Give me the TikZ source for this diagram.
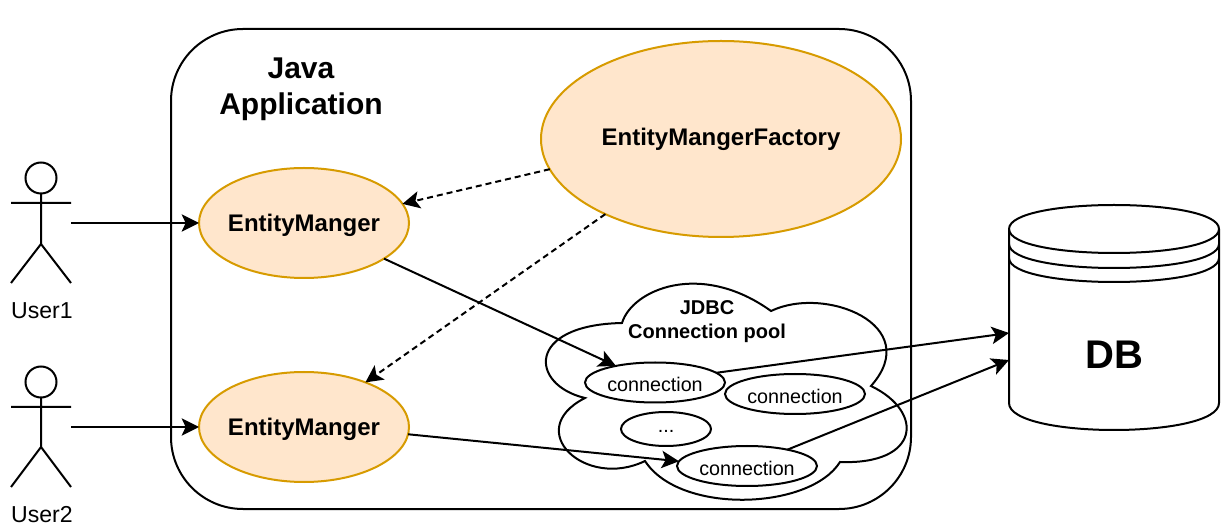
\documentclass[tikz,border=0pt]{standalone}
\usepackage{fontspec}
\setmainfont{Liberation Sans}
\usetikzlibrary{shapes.geometric,arrows.meta}
\def\px{0.75pt}
\tikzset{
  x=0.75pt,y=-0.75pt,
  every node/.style={inner sep=0pt,outer sep=0pt,text=black},
  ln/.style={line width=1.5pt,draw=black},
  boldtxt/.style={font=\fontsize{18pt}{22pt}\selectfont\bfseries},
  orangeell/.style={ellipse,draw=oline,fill=ofill,line width=1.5pt},
  connell/.style={ellipse,draw=black,fill=white,line width=1.5pt,minimum width=140*\px,minimum height=40*\px},
  conntxt/.style={font=\fontsize{14.8pt}{18pt}\selectfont},
  conn/.style={line width=1.5pt,draw=black,-{Stealth[length=13pt,width=13pt,inset=3pt]}},
  dconn/.style={conn,dash pattern=on 4.5pt off 3pt},
  lbl/.style={font=\fontsize{17.3pt}{20pt}\selectfont}
}
\definecolor{oline}{HTML}{D79B00}
\definecolor{ofill}{HTML}{FFE6CC}
\begin{document}
\begin{tikzpicture}
\useasboundingbox (0,0) rectangle (1231,530);
\fill[white] (0,0) rectangle (1231,530);
% container
\draw[ln,rounded corners=54pt] (171,29) rectangle (911,509);
\node[align=center,font=\fontsize{22.5pt}{27pt}\selectfont\bfseries] (app) at (301,89) {Java\\Application};
% cloud
\draw[ln,fill=white] (622,323)
  .. controls (632,290) and (700,260) .. (771,311)
  .. controls (825,285) and (925,325) .. (871,386)
  .. controls (925,412) and (920,465) .. (840,462)
  .. controls (810,510) and (680,515) .. (645,461)
  .. controls (585,490) and (522,430) .. (585,398)
  .. controls (530,385) and (525,325) .. (622,323) -- cycle;
\node[align=center,font=\fontsize{15pt}{18pt}\selectfont\bfseries] (pool) at (707,321.5) {JDBC\\Connection pool};
% ellipses
\node[orangeell,minimum width=360*\px,minimum height=196*\px,boldtxt] (f) at (721,139) {};
\node[boldtxt] (ft) at (721,139) {EntityMangerFactory};
\node[orangeell,minimum width=210*\px,minimum height=110*\px] (e1) at (304,223) {};
\node[boldtxt] (e1t) at (304,225) {EntityManger};
\node[orangeell,minimum width=210*\px,minimum height=110*\px] (e2) at (304,427) {};
\node[boldtxt] (e2t) at (304,429) {EntityManger};
\node[connell] (c1) at (655,382.5) {};
\node[conntxt] (c1t) at (655,384.5) {connection};
\node[connell] (c2) at (795,394) {};
\node[conntxt] (c2t) at (795,396) {connection};
\node[connell,minimum width=90*\px,minimum height=34*\px] (c0) at (666,429) {};
\node[conntxt] (c0t) at (666,431) {...};
\node[connell] (c3) at (747,466) {};
\node[conntxt] (c3t) at (747,468) {connection};
% DB
\draw[ln,fill=white] (1009,229) .. controls (1009,197) and (1219,197) .. (1219,229)
  -- (1219,403) .. controls (1219,439) and (1009,439) .. (1009,403) -- cycle;
\draw[ln] (1009,229) .. controls (1009,261) and (1219,261) .. (1219,229);
\draw[ln] (1009,244) .. controls (1009,276) and (1219,276) .. (1219,244);
\draw[ln] (1009,258) .. controls (1009,290) and (1219,290) .. (1219,258);
\node[font=\fontsize{30pt}{36pt}\selectfont\bfseries] (db) at (1114,355) {DB};
\coordinate (dbin1) at (1009,333);
\coordinate (dbin2) at (1009,360);
% actors
\draw[ln] (41,178) circle (15.5);
\draw[ln] (41,193.5) -- (41,244) (11,203) -- (71,203) (11,283) -- (41,244) -- (71,283);
\node[lbl] (u1) at (42,311) {User1};
\draw[ln] (41,382) circle (15.5);
\draw[ln] (41,397.5) -- (41,447) (11,407) -- (71,407) (11,487) -- (41,447) -- (71,487);
\node[lbl] (u2) at (42,515) {User2};
\coordinate (a1) at (71,223);
\coordinate (a2) at (71,427);
% connectors
\draw[conn] (a1) -- (e1.west);
\draw[conn] (a2) -- (e2.west);
\draw[dconn] (f.190.8) -- (e1.11.1);
\draw[dconn] (f.213.9) -- (e2.36.1);
\draw[conn] (e1.-24) -- (c1.157.3);
\draw[conn] (e2.-4.4) -- (c3.176.7);
\draw[conn] (c1.9.5) -- (dbin1);
\draw[conn] (c3.22) -- (dbin2);
\end{tikzpicture}
\end{document}
